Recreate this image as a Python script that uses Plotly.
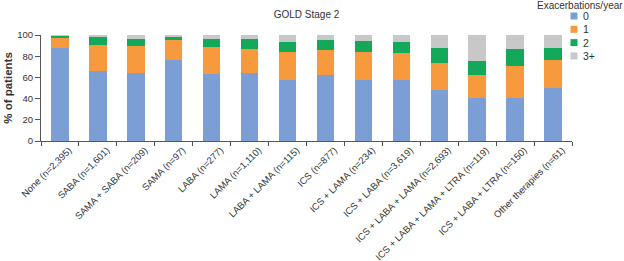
import plotly.graph_objects as go

categories = [
    "None (n=2,395)", "SABA (n=1,601)", "SAMA + SABA (n=209)", "SAMA (n=97)",
    "LABA (n=277)", "LAMA (n=1,110)", "LABA + LAMA (n=115)", "ICS (n=877)",
    "ICS + LAMA (n=234)", "ICS + LABA (n=3,619)", "ICS + LABA + LAMA (n=2,693)",
    "ICS + LABA + LAMA + LTRA (n=119)", "ICS + LABA + LTRA (n=150)", "Other therapies (n=61)",
]
exac_0 = [88.0, 65.7, 64.5, 76.4, 63.5, 64.5, 57.9, 62.3, 57.2, 57.9, 48.1, 40.9, 40.3, 50.0]
exac_1 = [9.8, 25.2, 25.1, 19.2, 25.5, 22.6, 25.7, 23.9, 26.8, 25.4, 25.8, 21.0, 30.8, 26.4]
exac_2 = [1.8, 7.5, 6.6, 3.4, 6.9, 8.8, 10.1, 8.8, 10.3, 10.4, 13.5, 13.6, 15.4, 11.6]
exac_3 = [0.4, 1.6, 3.8, 1.0, 4.1, 4.1, 6.3, 5.0, 5.7, 6.3, 12.6, 24.5, 13.5, 12.0]

series_names = ["0", "1", "2", "3+"]
series_values = [exac_0, exac_1, exac_2, exac_3]
series_colors = ["#7b9fd4", "#f79a3e", "#13a85a", "#c8c8c8"]
legend_title = "Exacerbations/year"

W, H = 624, 261
L, R, T, B = 41, 52, 35, 120

fig = go.Figure()
for name, vals, col in zip(series_names, series_values, series_colors):
    fig.add_trace(go.Bar(x=categories, y=vals, name=name, marker_color=col,
                         marker_line_width=0, showlegend=False))

font = "Liberation Sans, Arial, sans-serif"
fig.update_layout(
    barmode="stack", bargap=0.54,
    width=W, height=H,
    margin=dict(l=L, r=R, t=T, b=B, autoexpand=False),
    paper_bgcolor="white", plot_bgcolor="white",
    font=dict(family=font, color="#333333", size=10),
    title=dict(text="GOLD Stage 2", x=0.5, xref="paper", xanchor="center",
               y=1 - 14 / H, yref="container", yanchor="middle", font=dict(size=10)),
    showlegend=False,
)

# custom legend (compact spacing as in the reference)
pw, ph = W - L - R, H - T - B
def px_x(x):
    return (x - L) / pw
def px_y(y):
    return (H - B - y) / ph

fig.add_annotation(text=legend_title, xref="paper", yref="paper",
                   x=px_x(580), xanchor="center", y=px_y(5.5), yanchor="middle",
                   showarrow=False, font=dict(size=10))
for i, (name, col) in enumerate(zip(series_names, series_colors)):
    cy = 16 + i * 13.3
    fig.add_shape(type="rect", xref="paper", yref="paper",
                  x0=px_x(570.5), x1=px_x(577.5), y0=px_y(cy - 3.5), y1=px_y(cy + 3.5),
                  fillcolor=col, line_width=0)
    fig.add_annotation(text=name, xref="paper", yref="paper",
                       x=px_x(581), xanchor="left", y=px_y(cy), yanchor="middle",
                       showarrow=False, font=dict(size=10.5))

fig.update_xaxes(showline=True, linecolor="#555555", linewidth=1,
                 ticks="outside", tickson="boundaries", ticklen=4,
                 tickcolor="#555555", tickangle=-45, tickfont=dict(size=9.5),
                 ticklabelshift=9, ticklabelstandoff=-1,
                 showgrid=False, automargin=False)
fig.update_yaxes(range=[0, 100], dtick=20, showline=True, linecolor="#555555",
                 linewidth=1, ticks="outside", ticklen=5, tickcolor="#555555",
                 tickfont=dict(size=9.5), showgrid=False, automargin=False,
                 title=dict(text="<b>% of patients</b>", font=dict(size=11.5),
                            standoff=2))
fig.write_html("out.html")
